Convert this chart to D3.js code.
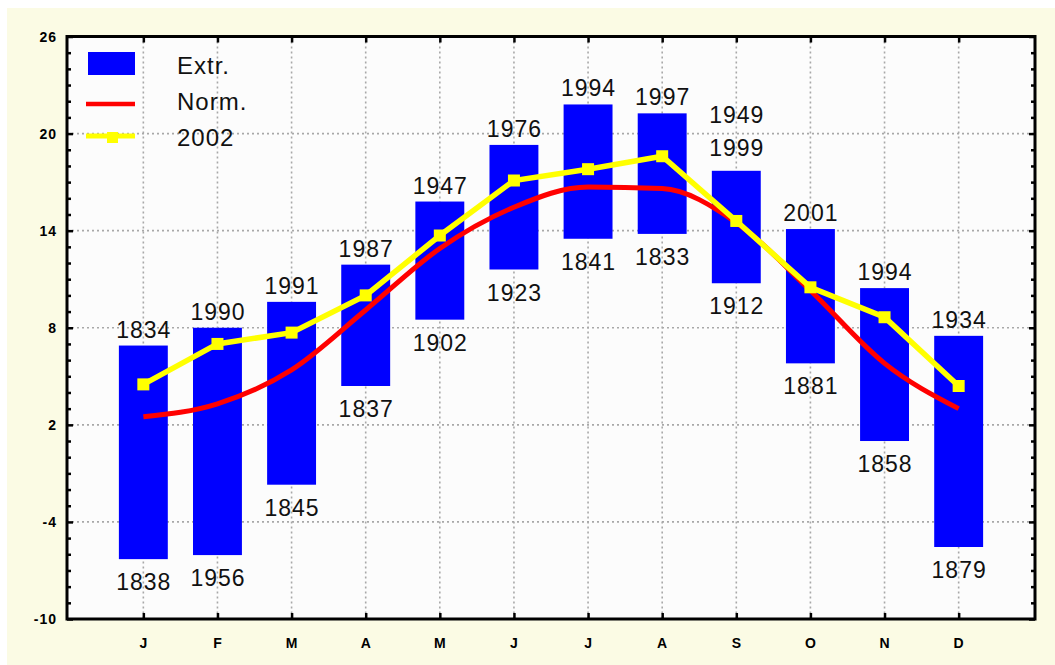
<!DOCTYPE html>
<html>
<head>
<meta charset="utf-8">
<script src="https://cdn.jsdelivr.net/npm/d3@7"></script>
<style>
  html, body { margin: 0; padding: 0; background: #ffffff; }
  svg { display: block; }
</style>
</head>
<body>
<svg id="chart" width="1055" height="665"></svg>
<script>
// ---- data ----
const months = ["J","F","M","A","M","J","J","A","S","O","N","D"];
const extrMax = [6.9, 8.0, 9.6, 11.9, 15.8, 19.3, 21.8, 21.25, 17.7, 14.1, 10.45, 7.5];
const extrMin = [-6.3, -6.05, -1.7, 4.4, 8.5, 11.6, 13.5, 13.8, 10.75, 5.8, 1.0, -5.55];
const maxYears = [["1834"],["1990"],["1991"],["1987"],["1947"],["1976"],["1994"],["1997"],["1949","1999"],["2001"],["1994"],["1934"]];
const minYears = ["1838","1956","1845","1837","1902","1923","1841","1833","1912","1881","1858","1879"];
const norm = [2.5, 3.3, 5.4, 9.1, 12.9, 15.45, 16.7, 16.6, 14.5, 10.3, 5.8, 3.0];
const y2002 = [4.5, 7.0, 7.7, 10.0, 13.7, 17.1, 17.8, 18.6, 14.6, 10.5, 8.65, 4.4];
const yTicks = [-10, -4, 2, 8, 14, 20, 26];
const legendItems = ["Extr.", "Norm.", "2002"];

// ---- layout ----
const svg = d3.select("#chart");
const L = 67, R = 1035, T = 36.5, B = 619;

svg.append("rect").attr("x", 7).attr("y", 8).attr("width", 1048).attr("height", 657)
  .attr("fill", "#fbfbe4");
svg.append("rect").attr("x", L).attr("y", T).attr("width", R - L).attr("height", B - T)
  .attr("fill", "#fcfcfc");

const idx = d3.range(months.length);
const x = d3.scalePoint().domain(idx).range([L, R]).padding(1.03);
const y = d3.scaleLinear().domain([-10, 26]).range([B, T]);
const bw = x.step() * 0.66;

// grid
const grid = svg.append("g").attr("stroke", "#a8a8a8").attr("stroke-width", 1.6)
  .attr("stroke-dasharray", "2,3");
grid.selectAll("line.h").data(yTicks.slice(1, -1)).join("line")
  .attr("x1", L).attr("x2", R).attr("y1", d => y(d)).attr("y2", d => y(d));
grid.selectAll("line.v").data(idx).join("line")
  .attr("y1", T).attr("y2", B).attr("x1", d => x(d)).attr("x2", d => x(d));

// bars
svg.append("g").selectAll("rect").data(idx).join("rect")
  .attr("x", i => x(i) - bw / 2)
  .attr("width", bw)
  .attr("y", i => y(extrMax[i]))
  .attr("height", i => y(extrMin[i]) - y(extrMax[i]))
  .attr("fill", "#0000ff");

// norm line (smooth)
svg.append("path").datum(idx)
  .attr("fill", "none").attr("stroke", "#ff0000").attr("stroke-width", 5)
  .attr("d", d3.line().x(i => x(i)).y(i => y(norm[i])).curve(d3.curveMonotoneX));

// 2002 line
svg.append("path").datum(idx)
  .attr("fill", "none").attr("stroke", "#ffff00").attr("stroke-width", 5.5)
  .attr("d", d3.line().x(i => x(i)).y(i => y(y2002[i])));
svg.append("g").selectAll("rect").data(idx).join("rect")
  .attr("x", i => x(i) - 6).attr("y", i => y(y2002[i]) - 6)
  .attr("width", 12).attr("height", 12).attr("fill", "#ffff00");

// labels
const lblFont = "'Liberation Sans', Arial, sans-serif";
const topLbl = svg.append("g").attr("font-family", lblFont).attr("font-size", 23)
  .attr("letter-spacing", 1).attr("text-anchor", "middle").attr("fill", "#111");
idx.forEach(i => {
  const lines = maxYears[i];
  const base = y(extrMax[i]) - (lines.length > 1 ? 15 : 8);
  lines.slice().reverse().forEach((t, k) => {
    topLbl.append("text").attr("x", x(i) + 0.5).attr("y", base - k * 33).text(t);
  });
});
svg.append("g").attr("font-family", lblFont).attr("font-size", 23)
  .attr("letter-spacing", 1).attr("text-anchor", "middle").attr("fill", "#111")
  .selectAll("text").data(idx).join("text")
  .attr("x", i => x(i) + 0.5).attr("y", i => y(extrMin[i]) + 31)
  .text(i => minYears[i]);

// axes
const tickFont = "'Liberation Sans', Arial, sans-serif";
const yMinor = d3.range(-10, 27, 1);
const axL = svg.append("g").attr("transform", `translate(${L},0)`)
  .call(d3.axisRight(y).tickValues(yMinor).tickSize(4).tickFormat(""));
const axR = svg.append("g").attr("transform", `translate(${R},0)`)
  .call(d3.axisLeft(y).tickValues(yMinor).tickSize(4).tickFormat(""));
const axB = svg.append("g").attr("transform", `translate(0,${B})`)
  .call(d3.axisTop(x).tickSize(6).tickFormat(""));
const axT = svg.append("g").attr("transform", `translate(0,${T})`)
  .call(d3.axisBottom(x).tickSize(6).tickFormat(""));
[axL, axR, axB, axT].forEach(a => {
  a.select(".domain").remove();
  a.selectAll("line").attr("stroke", "#000").attr("stroke-width", 2.5);
});
axL.selectAll(".tick").filter(d => yTicks.includes(d)).select("line").attr("x2", 6);
axR.selectAll(".tick").filter(d => yTicks.includes(d)).select("line").attr("x2", -6);

// frame
svg.append("rect").attr("x", L).attr("y", T).attr("width", R - L).attr("height", B - T)
  .attr("fill", "none").attr("stroke", "#000").attr("stroke-width", 3);

// tick labels
svg.append("g").attr("font-family", tickFont).attr("font-size", 14).attr("font-weight", "bold")
  .attr("letter-spacing", 1).attr("text-anchor", "end").attr("fill", "#000")
  .selectAll("text").data(yTicks).join("text")
  .attr("x", 57).attr("y", d => y(d) + 5).text(d => d);
svg.append("g").attr("font-family", tickFont).attr("font-size", 14).attr("font-weight", "bold")
  .attr("text-anchor", "middle").attr("fill", "#000")
  .selectAll("text").data(idx).join("text")
  .attr("x", i => x(i)).attr("y", 648).text(i => months[i]);

// legend
const lg = svg.append("g");
lg.append("rect").attr("x", 88).attr("y", 52).attr("width", 47).attr("height", 23).attr("fill", "#0000ff");
lg.append("line").attr("x1", 86).attr("x2", 135).attr("y1", 104).attr("y2", 104)
  .attr("stroke", "#ff0000").attr("stroke-width", 4.5);
lg.append("line").attr("x1", 86).attr("x2", 135).attr("y1", 136).attr("y2", 136)
  .attr("stroke", "#ffff00").attr("stroke-width", 5);
lg.append("rect").attr("x", 107).attr("y", 132).attr("width", 11).attr("height", 11).attr("fill", "#ffff00");
lg.selectAll("text").data(legendItems).join("text")
  .attr("x", 177).attr("y", (d, k) => 74 + k * 36)
  .attr("font-family", lblFont).attr("font-size", 24).attr("letter-spacing", 1).attr("fill", "#111")
  .text(d => d);
</script>
</body>
</html>
